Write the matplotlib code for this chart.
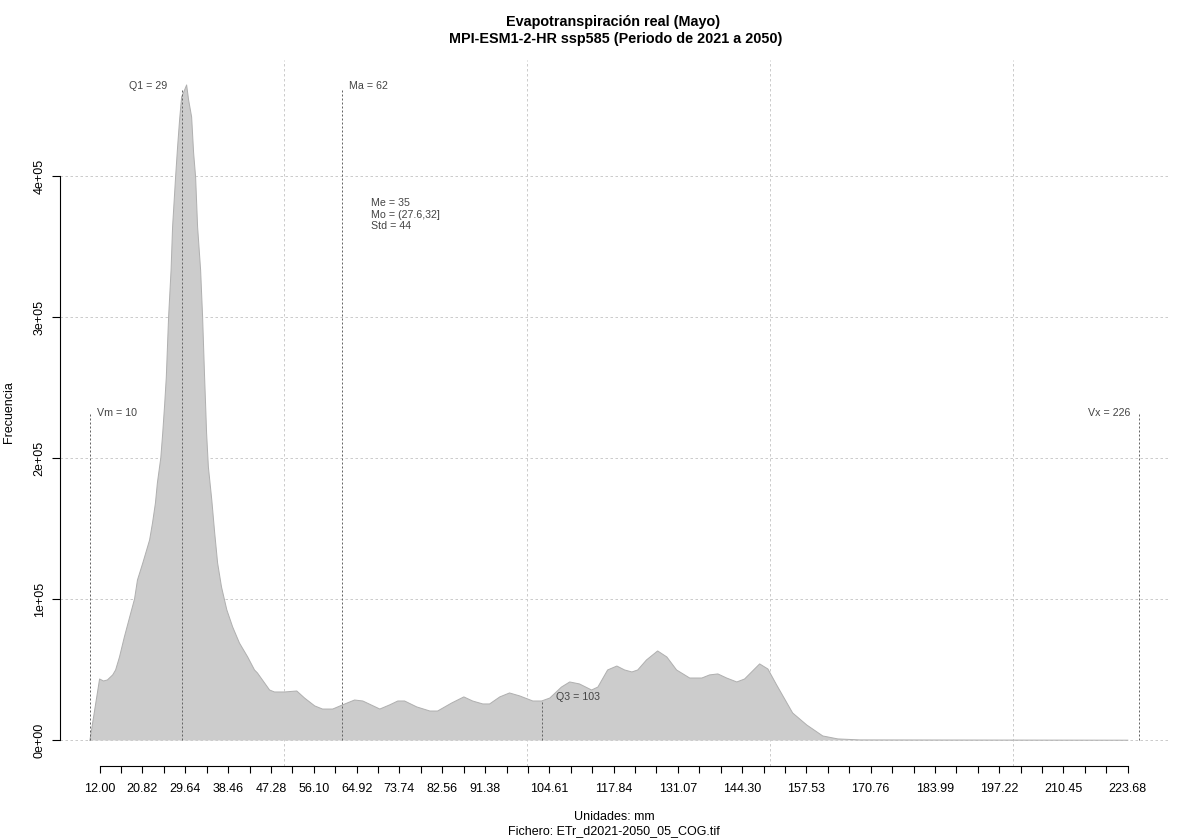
import matplotlib
matplotlib.use('Agg')
import matplotlib.pyplot as plt
import numpy as np

plt.rcParams['font.family'] = ['Liberation Sans', 'DejaVu Sans']

# curve (mm, frecuencia en miles)
mm = [10.0, 12.0, 12.8, 13.6, 14.7, 15.3, 16.1, 17.1, 18.2, 19.2, 19.8, 20.9, 22.3, 22.9, 23.5,
      23.9, 24.6, 25.0, 25.39, 25.74, 26.21, 26.72, 27.03, 27.65, 28.06, 28.47, 28.89, 29.5, 29.92, 30.33,
      30.95, 31.36, 31.77, 32.18, 32.8, 33.21, 33.62, 33.83, 34.03, 34.4, 35.1, 35.7, 36.3, 37.1, 38.2,
      39.4, 40.8, 42.5, 43.9, 44.5, 47.0, 48.0, 50.1, 52.6, 54.2, 56.3, 57.9, 60.0, 62.0, 64.5,
      66.2, 69.7, 71.7, 73.4, 74.8, 77.3, 80.0, 81.6, 84.5, 87.0, 88.8, 90.9, 92.3, 94.4, 96.4,
      98.5, 101.2, 103.0, 104.7, 107.1, 108.8, 110.8, 113.3, 114.6, 116.6, 118.5, 120.1, 121.6,
      122.8, 124.6, 126.9, 128.8, 130.8, 133.5, 136.0, 137.6, 139.3, 141.1, 143.2, 144.8, 147.9,
      149.6, 151.4, 154.7, 157.6, 160.9, 164.0, 168.5, 223.7]
frec = [0.0, 43.6, 42.2, 42.9, 46.5, 50.0, 59.2, 73.4, 87.6, 100.4, 113.8, 125.9, 142.2, 154.3, 168.4,
        182.6, 200.3, 218.1, 237.9, 257.8, 300.4, 333.7, 364.2, 399.6, 420.9, 440.0, 456.4, 461.3, 464.9, 454.2,
        442.2, 416.7, 399.6, 364.2, 333.7, 300.4, 257.8, 237.9, 218.1, 194.0, 170.6, 147.2, 125.9, 108.9, 92.6,
        80.5, 69.1, 59.2, 50.0, 47.9, 35.8, 34.4, 34.4, 35.1, 30.1, 24.5, 22.3, 22.3, 25.2, 28.7,
        28.0, 22.3, 25.2, 28.0, 28.0, 23.8, 20.9, 20.9, 26.6, 30.9, 28.0, 25.9, 25.9, 30.9, 33.7,
        31.6, 28.0, 28.0, 30.1, 37.9, 41.5, 40.1, 35.8, 37.9, 50.0, 52.8, 50.0, 48.6,
        50.0, 57.1, 63.5, 59.2, 50.0, 44.3, 44.3, 46.5, 47.2, 44.3, 41.5, 43.6, 54.3,
        50.7, 39.4, 19.5, 11.0, 3.2, 1.1, 0.4, 0.2]

xtick_pos = np.arange(49) * 4.41 + 12
xtick_txt = ['12.00', '', '20.82', '', '29.64', '', '38.46', '', '47.28', '', '56.10', '', '64.92', '',
             '73.74', '', '82.56', '', '91.38', '', '', '104.61', '', '', '117.84', '', '', '131.07', '', '',
             '144.30', '', '', '157.53', '', '', '170.76', '', '', '183.99', '', '', '197.22', '', '',
             '210.45', '', '', '223.68']
ytick_pos = [0, 1e5, 2e5, 3e5, 4e5]
ytick_txt = ['0e+00', '1e+05', '2e+05', '3e+05', '4e+05']
xgrid = [50, 100, 150, 200]

# estadisticos: valor, altura de la linea
vm, vm_h = 10, 232e3
q1, q1_h = 29, 463e3
ma, ma_h = 62, 463e3
q3, q3_h = 103, 28e3
vx, vx_h = 226, 232e3

fig = plt.figure(figsize=(12, 8.4), dpi=100)
ax = fig.add_axes([60 / 1200, 1 - 766 / 840, 1110 / 1200, 706 / 840])
ax.set_xlim(3.85, 232.39)
ax.set_ylim(-18.1e3, 482.6e3)

ax.vlines(xgrid, -18.1e3, 482.6e3, color='#cccccc', lw=0.72, linestyle=(0, (2.5, 2.5)), zorder=1)
ax.hlines(ytick_pos, 3.85, 232.39, color='#cccccc', lw=0.72, linestyle=(0, (2.5, 2.5)), zorder=1)

y = np.array(frec) * 1000
ax.fill_between(mm, 0, y, facecolor='#cccccc', edgecolor='none', zorder=2)
ax.plot(mm, y, color='#b0b0b0', lw=0.72, zorder=3)

for v, h in [(vm, vm_h), (q1, q1_h), (ma, ma_h), (q3, q3_h), (vx, vx_h)]:
    ax.plot([v, v], [0, h], color='#666666', lw=0.72, linestyle=(0, (2, 2)), zorder=4)

for s in ['top', 'right']:
    ax.spines[s].set_visible(False)
ax.spines['bottom'].set_bounds(12, 223.68)
ax.spines['left'].set_bounds(0, 4e5)
ax.spines['bottom'].set_linewidth(0.8)
ax.spines['left'].set_linewidth(0.8)

ax.set_xticks(xtick_pos)
ax.set_xticklabels(xtick_txt, fontsize=9)
ax.set_yticks(ytick_pos)
ax.set_yticklabels(ytick_txt, fontsize=9, rotation=90, va='center')
ax.tick_params(axis='x', length=5.2, width=0.8, pad=7)
ax.tick_params(axis='y', length=5.8, width=0.8, pad=4.5)

c_txt = '#444444'
ax.text(26.0, 464e3, 'Q1 = 29', fontsize=7.7, color=c_txt, ha='right', va='center')
ax.text(63.3, 464e3, 'Ma = 62', fontsize=7.7, color=c_txt, ha='left', va='center')
ax.text(11.4, 232e3, 'Vm = 10', fontsize=7.7, color=c_txt, ha='left', va='center')
ax.text(224.3, 232e3, 'Vx = 226', fontsize=7.7, color=c_txt, ha='right', va='center')
ax.text(105.9, 30.8e3, 'Q3 = 103', fontsize=7.7, color=c_txt, ha='left', va='center')
ax.text(67.8, 381e3, 'Me = 35', fontsize=7.7, color=c_txt, ha='left', va='center')
ax.text(67.8, 373e3, 'Mo = (27.6,32]', fontsize=7.7, color=c_txt, ha='left', va='center')
ax.text(67.8, 365e3, 'Std = 44', fontsize=7.7, color=c_txt, ha='left', va='center')

fig.text(613 / 1200, 1 - 22 / 840, 'Evapotranspiración real (Mayo)', fontsize=10.4, fontweight='bold', ha='center', va='center')
fig.text(616 / 1200, 1 - 39.5 / 840, 'MPI-ESM1-2-HR ssp585 (Periodo de 2021 a 2050)', fontsize=10.4, fontweight='bold', ha='center', va='center')
fig.text(614 / 1200, 1 - 817.5 / 840, 'Unidades: mm', fontsize=9, ha='center', va='center')
fig.text(614 / 1200, 1 - 831.5 / 840, 'Fichero: ETr_d2021-2050_05_COG.tif', fontsize=9, ha='center', va='center')
fig.text(9 / 1200, 1 - 412 / 840, 'Frecuencia', fontsize=9, rotation=90, ha='center', va='center')

fig.savefig('out.png', dpi=100)
